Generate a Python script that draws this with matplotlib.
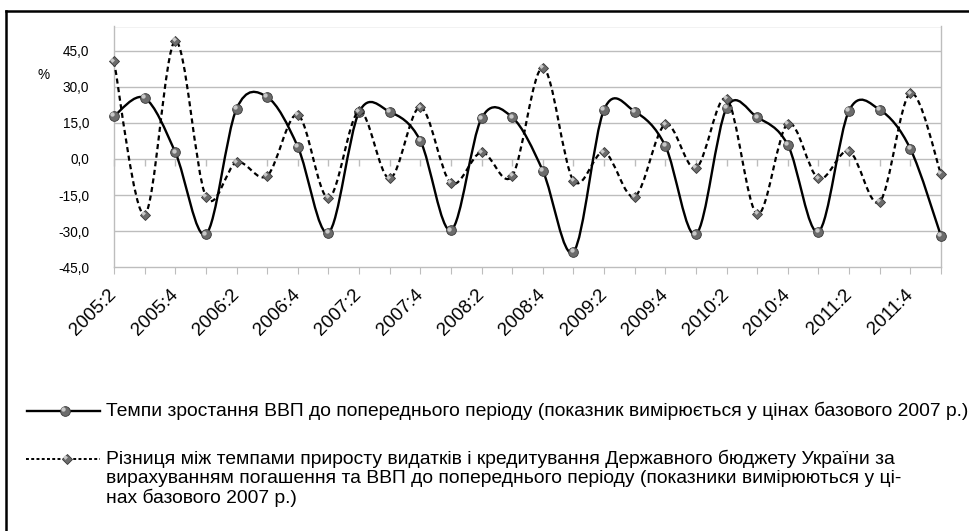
import numpy as np
import matplotlib
matplotlib.use("Agg")
import matplotlib.pyplot as plt
from matplotlib.path import Path
from matplotlib.patches import PathPatch
from matplotlib.lines import Line2D
from matplotlib import transforms
from matplotlib.ticker import FuncFormatter, FixedLocator

plt.rcParams['font.family'] = ['Liberation Sans', 'DejaVu Sans']

periods = ["2005:2", "2005:3", "2005:4", "2006:1", "2006:2", "2006:3", "2006:4",
           "2007:1", "2007:2", "2007:3", "2007:4", "2008:1", "2008:2", "2008:3",
           "2008:4", "2009:1", "2009:2", "2009:3", "2009:4", "2010:1", "2010:2",
           "2010:3", "2010:4", "2011:1", "2011:2", "2011:3", "2011:4", "2012:1"]
gdp_growth = [17.8, 25.3, 2.8, -31.3, 20.8, 25.7, 5.1, -30.6, 19.4, 19.6, 7.6, -29.6,
              16.9, 17.3, -4.9, -38.6, 20.5, 19.7, 5.4, -31.3, 21.2, 17.3, 5.8, -30.2,
              20.1, 20.4, 4.2, -32.0]
budget_diff = [40.5, -23.2, 49.0, -15.6, -1.4, -7.0, 18.3, -16.2, 19.8, -8.1, 21.5, -10.0,
               2.8, -7.1, 37.9, -9.0, 2.8, -15.6, 14.4, -3.8, 25.0, -22.9, 14.7, -8.1,
               3.2, -17.8, 27.3, -6.3]
yticks = [-45, -30, -15, 0, 15, 30, 45]
label1 = "Темпи зростання ВВП до попереднього періоду (показник вимірюється у цінах базового 2007 р.)"
label2 = ("Різниця між темпами приросту видатків і кредитування Державного бюджету України за\n"
          "вирахуванням погашення та ВВП до попереднього періоду (показники вимірюються у ці-\n"
          "нах базового 2007 р.)")

W, H = 970, 531
fig = plt.figure(figsize=(W / 100, H / 100), dpi=100)
fig.patch.set_facecolor('white')

ax_l, ax_r, ax_t, ax_b = 114, 941, 26.5, 267.3
ax = fig.add_axes([ax_l / W, 1 - ax_b / H, (ax_r - ax_l) / W, (ax_b - ax_t) / H])
x = np.arange(len(periods))
ax.set_xlim(0, len(periods) - 1)
ax.set_ylim(-45, 55)

grid_c = '#bdbdbd'
for v in yticks[1:] + [55]:
    ax.axhline(v, color=grid_c, lw=1.0, zorder=1)
for s in ['left', 'bottom', 'right']:
    ax.spines[s].set_color(grid_c)
    ax.spines[s].set_linewidth(1.0)
ax.spines['top'].set_visible(False)

ax.yaxis.set_major_locator(FixedLocator(yticks))
ax.yaxis.set_major_formatter(FuncFormatter(lambda v, p: f"{v:.1f}".replace('.', ',')))
ax.tick_params(axis='y', length=0, pad=18, labelsize=9.8)

ax.set_xticks(x)
ax.set_xticklabels([p if i % 2 == 0 else "" for i, p in enumerate(periods)],
                   rotation=45, ha='right', va='center', rotation_mode='anchor', fontsize=13.5)
ax.tick_params(axis='x', length=5, color=grid_c, pad=13)

# small tick marks on the zero line
ax.plot(x, np.zeros(len(x)), linestyle='none', marker=3, markersize=5,
        color=grid_c, markeredgewidth=1.0, zorder=2, clip_on=False)

ax.text((44 - ax_l) / (ax_r - ax_l), (ax_b - 75) / (ax_b - ax_t), "%",
        transform=ax.transAxes, fontsize=9.8, ha='center', va='center')


def smooth_path(xs, ys):
    pts = np.column_stack([xs, ys]).astype(float)
    n = len(pts)
    verts = [pts[0]]
    codes = [Path.MOVETO]
    for i in range(n - 1):
        p0 = pts[max(i - 1, 0)]
        p1 = pts[i]
        p2 = pts[i + 1]
        p3 = pts[min(i + 2, n - 1)]
        c1 = p1 + (p2 - p0) / 6.0
        c2 = p2 - (p3 - p1) / 6.0
        verts += [c1, c2, p2]
        codes += [Path.CURVE4] * 3
    return Path(verts, codes)


def sphere_markers(xs, ys, marker, size, z):
    ax.plot(xs, ys, linestyle='none', marker=marker, markersize=size,
            markerfacecolor='#6c6c6c', markeredgecolor='#383838', markeredgewidth=0.6,
            zorder=z, clip_on=False)
    off = transforms.offset_copy(ax.transData, fig=fig, x=-1.2, y=1.2, units='points')
    ax.plot(xs, ys, linestyle='none', marker=marker, markersize=size * 0.45,
            markerfacecolor='#c8c8c8', markeredgewidth=0, transform=off,
            zorder=z + 0.1, clip_on=False)


ax.add_patch(PathPatch(smooth_path(x, gdp_growth), facecolor='none', edgecolor='black',
                       lw=1.7, zorder=3, clip_on=False))
sphere_markers(x, gdp_growth, 'o', 7.0, 4)
ax.add_patch(PathPatch(smooth_path(x, budget_diff), facecolor='none', edgecolor='black',
                       lw=1.6, linestyle=(0, (2.3, 1.6)), zorder=5, clip_on=False))
sphere_markers(x, budget_diff, 'D', 5.5, 6)


# legend (drawn manually)
def fx(px):
    return px / W


def fy(py):
    return 1 - py / H


def legend_marker(px, py, marker, size):
    fig.add_artist(Line2D([fx(px)], [fy(py)], marker=marker, markersize=size,
                          markerfacecolor='#6c6c6c', markeredgecolor='#383838',
                          markeredgewidth=0.6))
    off = transforms.offset_copy(fig.transFigure, fig=fig, x=-1.2, y=1.2, units='points')
    fig.add_artist(Line2D([fx(px)], [fy(py)], marker=marker, markersize=size * 0.45,
                          markerfacecolor='#c8c8c8', markeredgewidth=0, transform=off))


y1, y2 = 411, 459
fig.add_artist(Line2D([fx(27), fx(100)], [fy(y1), fy(y1)], color='black', lw=1.7))
legend_marker(65, y1, 'o', 7.0)
fig.add_artist(Line2D([fx(26), fx(100)], [fy(y2), fy(y2)], color='black', lw=1.4,
                      linestyle=(0, (1.5, 1.2))))
legend_marker(67, y2, 'D', 5.5)
fig.text(fx(106), fy(y1), label1, fontsize=13.9, ha='left', va='center')
fig.text(fx(106), fy(y2 - 9.5), label2, fontsize=13.9, ha='left', va='top', linespacing=1.15)

# outer frame
fig.add_artist(Line2D([fx(6), fx(6)], [fy(11), 0], color='black', lw=1.8))
fig.add_artist(Line2D([fx(6), 1], [fy(11), fy(11)], color='black', lw=1.8))

fig.savefig("out.png", dpi=100)
